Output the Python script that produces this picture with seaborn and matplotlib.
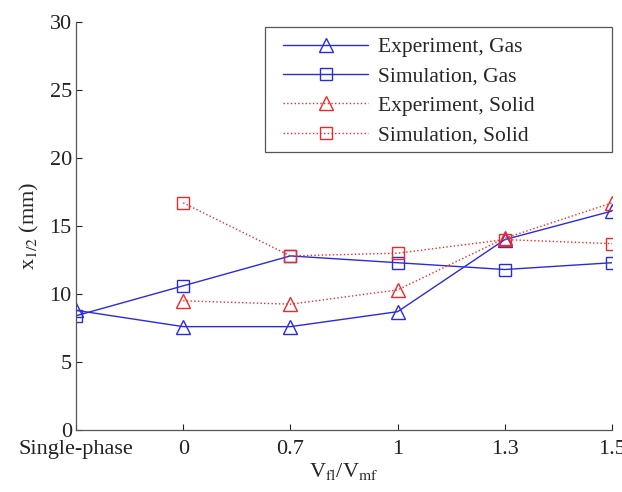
import numpy as np
import pandas as pd
import matplotlib
matplotlib.use("Agg")
import matplotlib.pyplot as plt
from matplotlib.patches import Rectangle
import seaborn as sns

categories = ["Single-phase", "0", "0.7", "1", "1.3", "1.5"]
exp_gas = [8.8, 7.6, 7.6, 8.7, 14.0, 16.1]
sim_gas = [8.4, 10.6, 12.8, 12.3, 11.8, 12.3]
exp_solid = [np.nan, 9.5, 9.25, 10.3, 14.1, 16.7]
sim_solid = [np.nan, 16.7, 12.8, 13.0, 14.0, 13.7]
series_names = ["Experiment, Gas", "Simulation, Gas", "Experiment, Solid", "Simulation, Solid"]
yticks = [0, 5, 10, 15, 20, 25, 30]

sns.set_style("ticks")
plt.rcParams["font.family"] = ["Liberation Serif", "DejaVu Serif"]
plt.rcParams["mathtext.fontset"] = "stix"

rows = []
for name, vals in zip(series_names, [exp_gas, sim_gas, exp_solid, sim_solid]):
    for i, v in enumerate(vals):
        rows.append({"pos": i, "value": v, "series": name})
df = pd.DataFrame(rows).dropna()

W, H = 622, 492
fig = plt.figure(figsize=(W/100, H/100), dpi=100)
ax = fig.add_axes([76/W, 1-430/H, (612-76)/W, (430-22)/H])

blue = "#2a2ae0"
red = "#f02828"
styles = {
    "Experiment, Gas": dict(color=blue, marker="^", ls="-"),
    "Simulation, Gas": dict(color=blue, marker="s", ls="-"),
    "Experiment, Solid": dict(color=red, marker="^", ls=":"),
    "Simulation, Solid": dict(color=red, marker="s", ls=":"),
}
for name in series_names:
    st = styles[name]
    sub = df[df["series"] == name]
    ms = 10 if st["marker"] == "^" else 8.5
    sns.lineplot(data=sub, x="pos", y="value", ax=ax, color=st["color"],
                 linestyle=st["ls"], marker=st["marker"], markersize=ms,
                 markerfacecolor="none", markeredgecolor=st["color"],
                 markeredgewidth=1.0, linewidth=1.0, label=name)

ax.set_xlim(0, len(categories) - 1)
ax.set_ylim(0, 30)
ax.set_xticks(range(len(categories)))
ax.set_xticklabels(categories)
ax.set_yticks(yticks)
ax.tick_params(direction="in", length=4, labelsize=16, colors="#222222", width=0.8)
ax.tick_params(axis="x", pad=7)
ax.tick_params(axis="y", pad=3)
for s in ["top", "right"]:
    ax.spines[s].set_visible(False)
for s in ["left", "bottom"]:
    ax.spines[s].set_color("#555555")
    ax.spines[s].set_linewidth(0.9)

ax.set_xlabel(r"V$_{\mathrm{fl}}$/V$_{\mathrm{mf}}$", fontsize=16, labelpad=2)
ax.set_ylabel(r"x$_{1/2}$ (mm)", fontsize=16, labelpad=6)

# legend frame (MATLAB-style wide box)
frame = Rectangle((265/W, 1-152/H), (612-265)/W, (152-27)/H,
                  transform=fig.transFigure, fill=True, facecolor="white",
                  edgecolor="#555555", linewidth=0.9, zorder=4, clip_on=False)
ax.add_patch(frame)
leg = ax.legend(loc="upper left", fontsize=15.5, handlelength=3.95, numpoints=1,
                frameon=False, borderpad=0, borderaxespad=0, handletextpad=0.47,
                labelspacing=0.43,
                bbox_to_anchor=(283/W, 1-37/H), bbox_transform=fig.transFigure)
leg.set_zorder(6)

fig.savefig("out.png", dpi=100)
